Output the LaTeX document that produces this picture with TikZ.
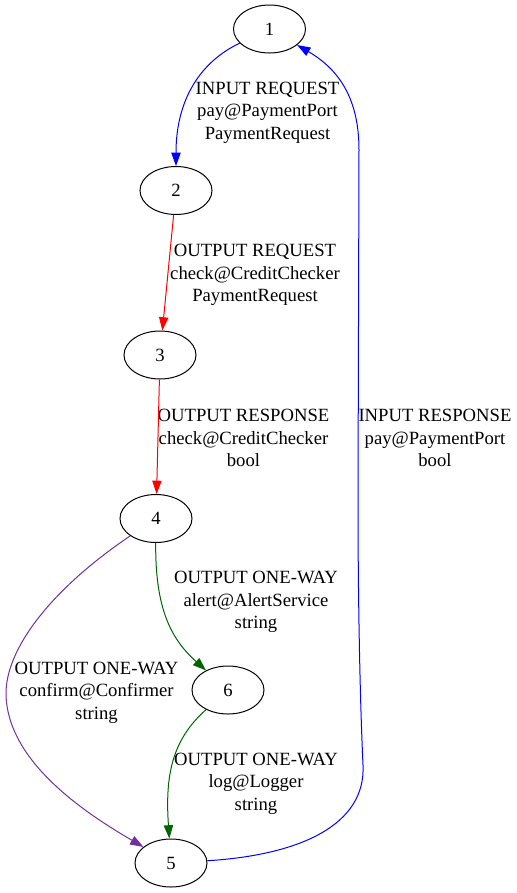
\documentclass[tikz,border=0pt]{standalone}
\usepackage{fontspec}
\setmainfont{Liberation Serif}
\usetikzlibrary{shapes.geometric,arrows.meta}
\definecolor{gvgreen}{RGB}{0,100,0}
\definecolor{gvpurple}{RGB}{112,48,160}
\begin{document}
\begin{tikzpicture}[x=0.75pt,y=-0.75pt,
  state/.style={draw=black,line width=0.75pt,ellipse,minimum width=54pt,minimum height=36pt,inner sep=0pt,font=\fontsize{14pt}{17pt}\selectfont},
  lab/.style={align=center,inner sep=0pt,font=\fontsize{14pt}{17pt}\selectfont},
  edge/.style={line width=0.75pt,-{Triangle[length=10pt,width=7pt]}}]
\useasboundingbox (0,0) rectangle (517,893);
\node[state] (n1) at (269.5,29) {1};
\node[state] (n2) at (176,190.5) {2};
\node[state] (n3) at (160,355) {3};
\node[state] (n4) at (156,518.5) {4};
\node[state] (n6) at (228,690) {6};
\node[state] (n5) at (171,863) {5};

\node[lab] (l12) at (267.5,112.5) {INPUT REQUEST\\pay@PaymentPort\\PaymentRequest};
\node[lab] (l23) at (255,275) {OUTPUT REQUEST\\check@CreditChecker\\PaymentRequest};
\node[lab] (l34) at (243.5,438) {OUTPUT RESPONSE\\check@CreditChecker\\bool};
\node[lab] (l51) at (435,438) {INPUT RESPONSE\\pay@PaymentPort\\bool};
\node[lab] (l46) at (256,602) {OUTPUT ONE-WAY\\alert@AlertService\\string};
\node[lab] (l45) at (96.5,692.5) {OUTPUT ONE-WAY\\confirm@Confirmer\\string};
\node[lab] (l65) at (256,783.5) {OUTPUT ONE-WAY\\log@Logger\\string};

\draw[edge,blue] (n1) .. controls (200,62) and (176,100) .. (n2);
\draw[edge,red] (n2) -- (n3);
\draw[edge,red] (n3) -- (n4);
\draw[edge,gvgreen] (n4) .. controls (155,610) and (172,640) .. (n6);
\draw[edge,gvgreen] (n6) .. controls (172,740) and (165,775) .. (n5);
\coordinate (p45) at (6,695);
\draw[edge,gvpurple] (n4) .. controls (50,590) and (5,650) .. (p45) .. controls (8,760) and (80,810) .. (n5);
\coordinate (q1) at (363,765);
\coordinate (q2) at (358,500);
\coordinate (q3) at (359,150);
\draw[edge,blue] (n5) .. controls (300,855) and (366,825) .. (q1) .. controls (360,700) and (358,600) .. (q2) -- (q3) .. controls (359,100) and (340,70) .. (n1);
\end{tikzpicture}
\end{document}
